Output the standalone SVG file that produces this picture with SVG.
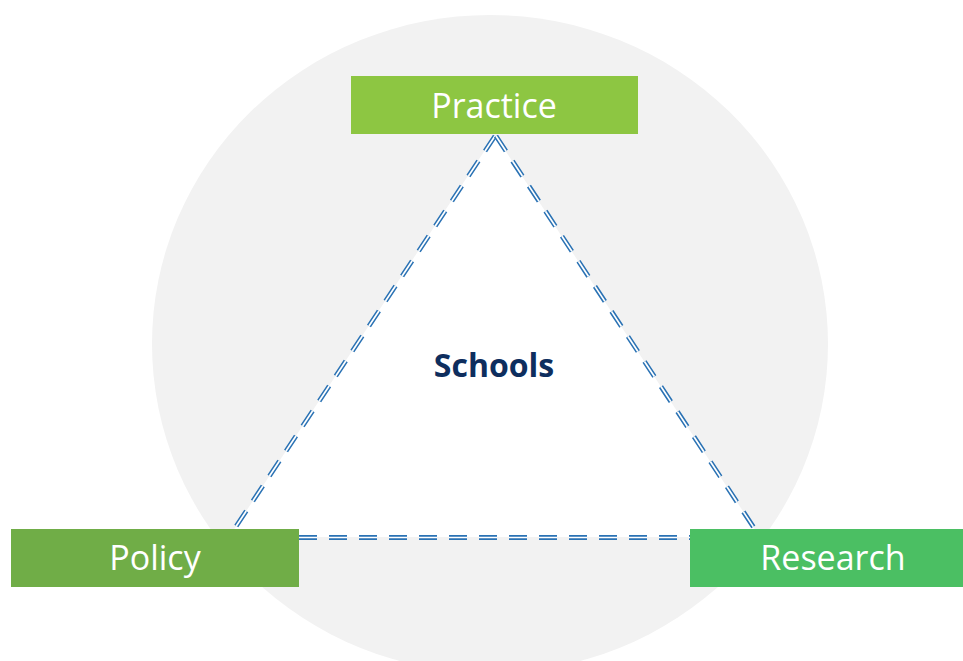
<svg xmlns="http://www.w3.org/2000/svg" width="963" height="661" viewBox="0 0 963 661">
  <style>
    .lbl { font-family: "Open Sans", "Noto Sans", "Liberation Sans", sans-serif; font-size: 34px; fill: #ffffff; text-anchor: middle; }
    .center { font-family: "Open Sans", "Noto Sans", "Liberation Sans", sans-serif; font-size: 32px; font-weight: bold; fill: #0E2E5E; text-anchor: middle; }
    .dbl-o { fill: none; stroke: #2A72B4; stroke-width: 4.8; stroke-dasharray: 18 12; }
    .dbl-i { fill: none; stroke: #ffffff; stroke-width: 1.7; stroke-dasharray: 18 12; }
  </style>
  <rect x="0" y="0" width="963" height="661" fill="#ffffff"/>
  <g id="background">
    <ellipse cx="490" cy="344" rx="338" ry="329" fill="#F2F2F2"/>
    <polygon points="495,135 229,537 760,537" fill="#ffffff"/>
  </g>
  <g id="connectors">
    <path class="dbl-o" d="M495,136 L229,537"/>
    <path class="dbl-i" d="M495,136 L229,537"/>
    <path class="dbl-o" d="M496,136 L760,537"/>
    <path class="dbl-i" d="M496,136 L760,537"/>
    <path class="dbl-o" d="M299,537.5 L690,537.5"/>
    <path class="dbl-i" d="M299,537.5 L690,537.5"/>
  </g>
  <g id="schools">
    <text class="center" x="494" y="377">Schools</text>
  </g>
  <g id="practice">
    <rect x="351" y="76" width="287" height="58" fill="#8DC642"/>
    <text class="lbl" x="494" y="118">Practice</text>
  </g>
  <g id="policy">
    <rect x="11" y="529" width="288" height="58" fill="#70AD47"/>
    <text class="lbl" x="155" y="570">Policy</text>
  </g>
  <g id="research">
    <rect x="690" y="529" width="287" height="58" fill="#4BBF63"/>
    <text class="lbl" x="833" y="570">Research</text>
  </g>
</svg>
